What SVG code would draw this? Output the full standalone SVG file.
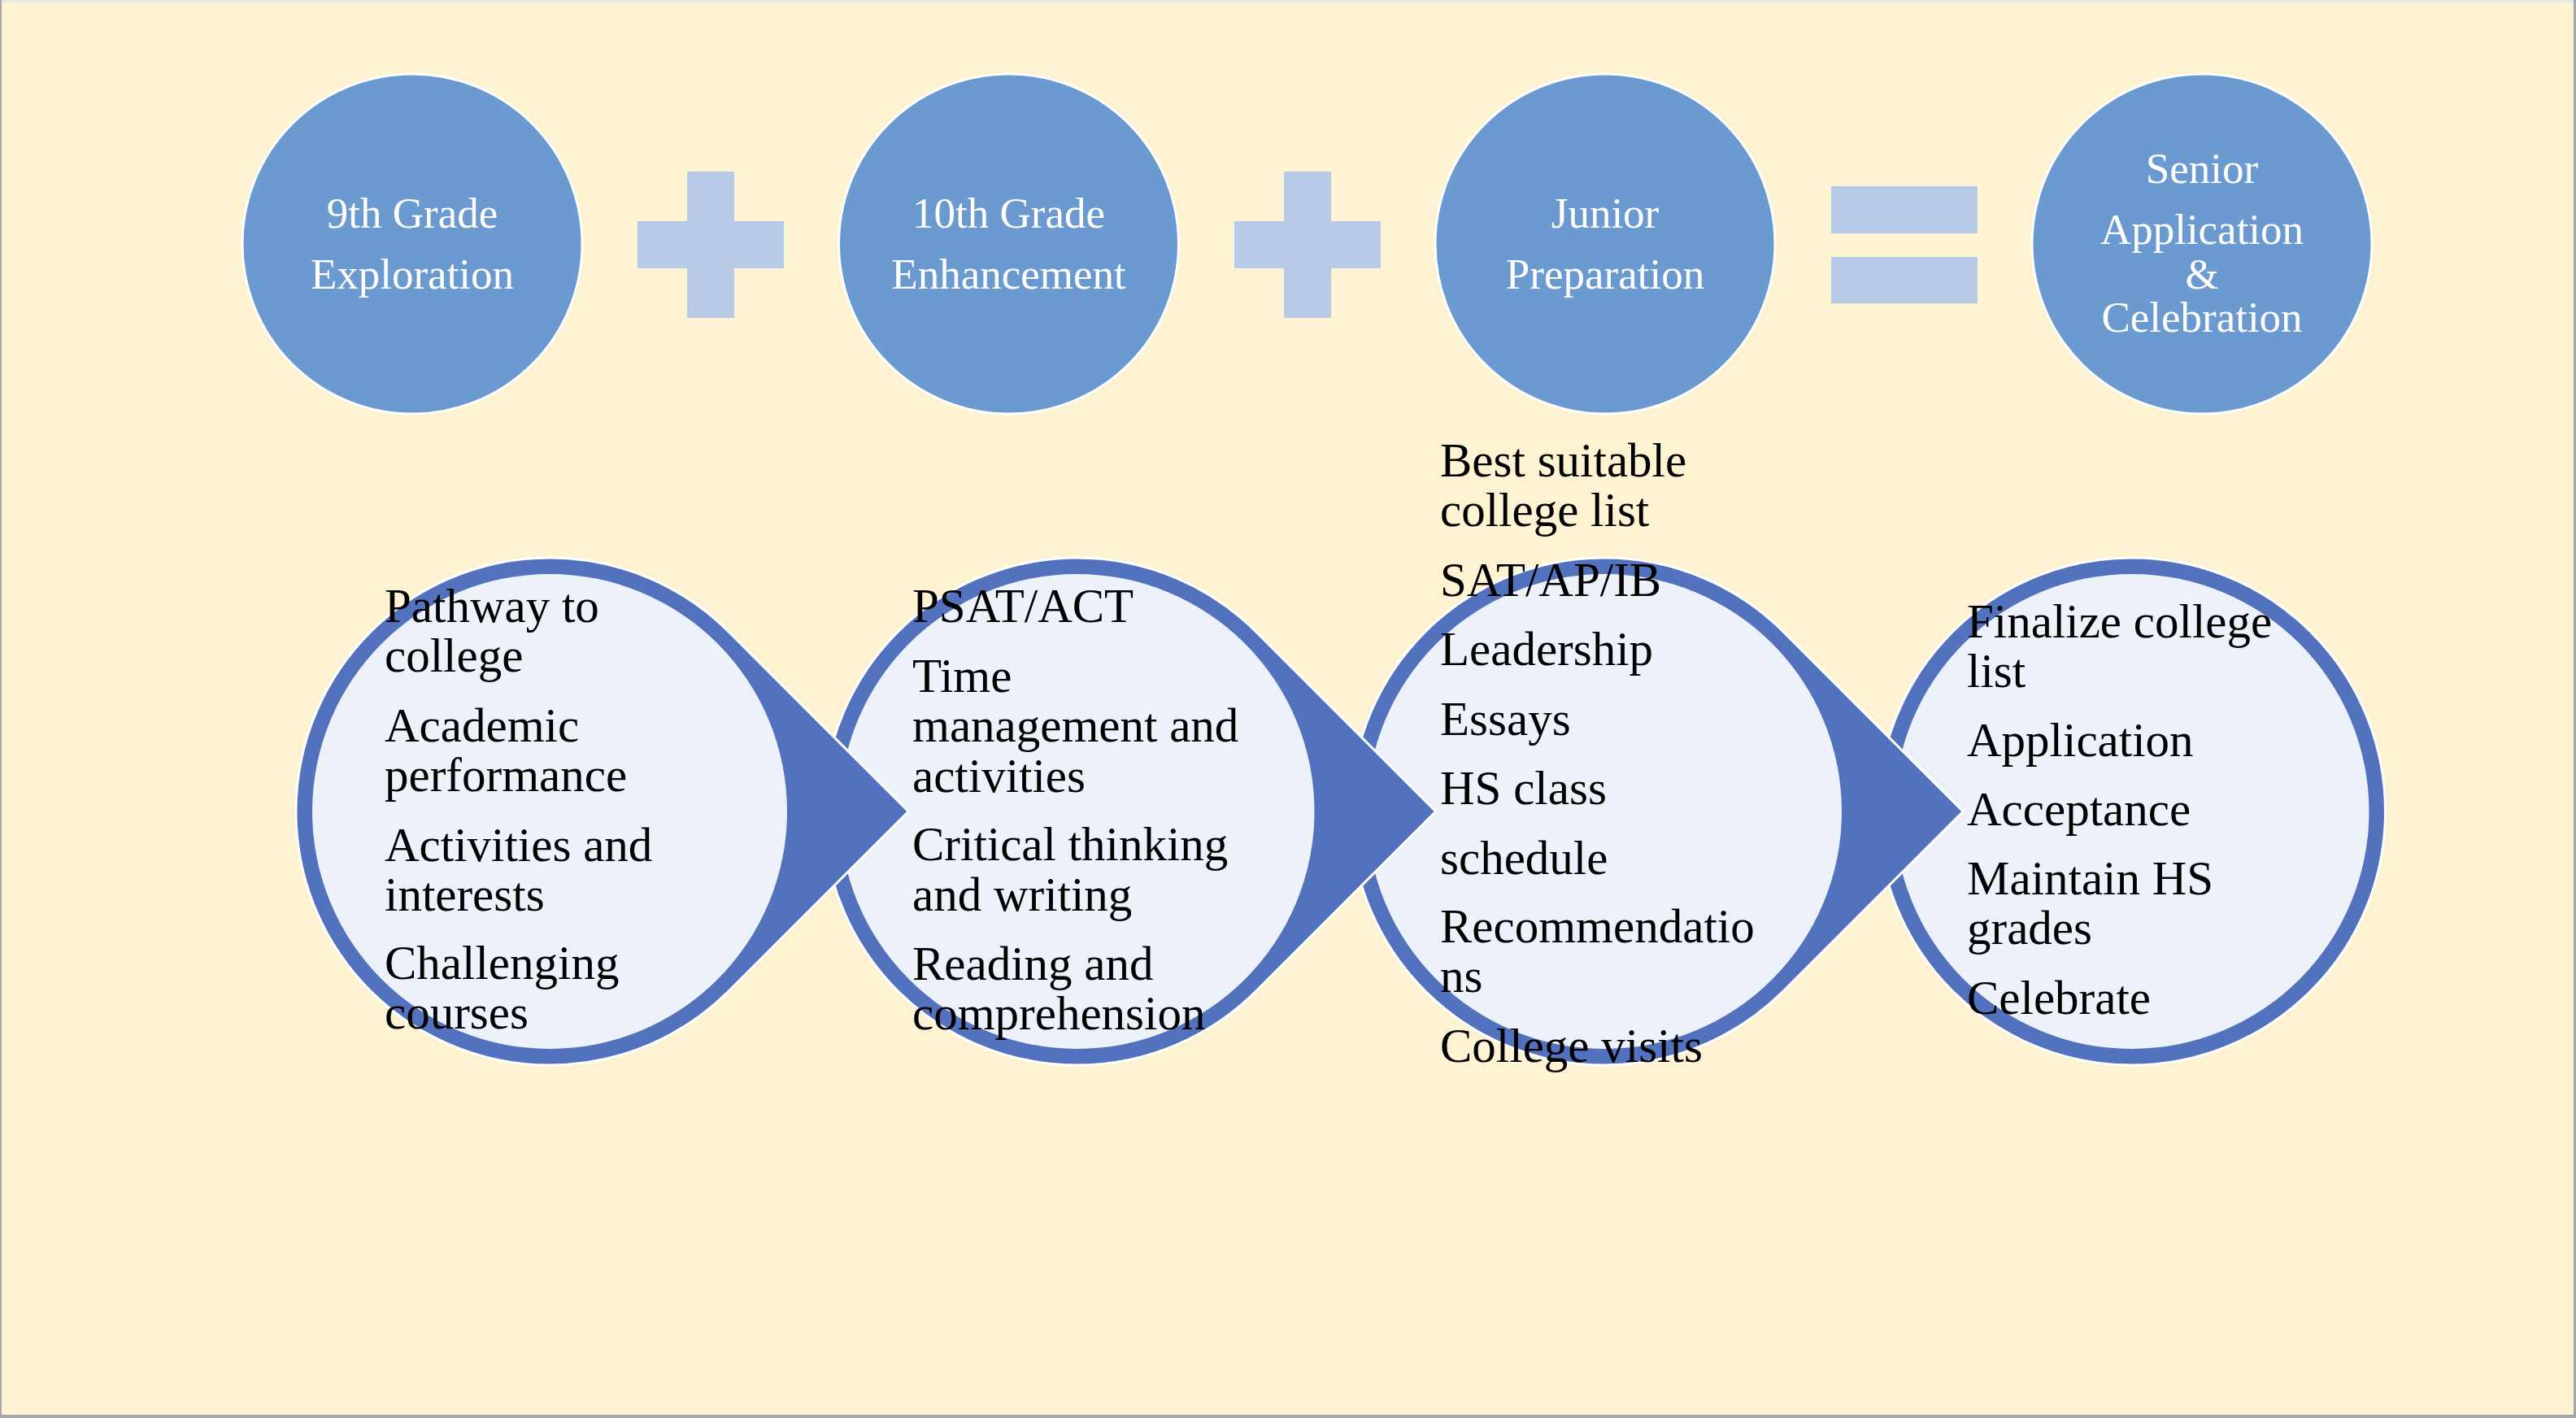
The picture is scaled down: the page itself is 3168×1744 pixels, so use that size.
<svg xmlns="http://www.w3.org/2000/svg" width="3168" height="1744" viewBox="0 0 3168 1744">
<style>
.bg{fill:#FDF3D2}
.top{fill:#6B9AD0;stroke:#FFFFFF;stroke-width:3}
.op{fill:#B8CBE6}
.ttxt{font-family:"Liberation Serif","Times New Roman",serif;font-size:53px;fill:#FFFFFF;text-anchor:middle}
.drop{fill:#5272BD;stroke:#FFFFFF;stroke-width:3;stroke-linejoin:miter}
.inner{fill:#EDF2FA}
.btxt{font-family:"Liberation Serif","Times New Roman",serif;font-size:59px;fill:#000000}
</style>
<rect class="bg" x="0" y="0" width="3168" height="1744"/>
<rect x="0" y="0" width="3168" height="3" fill="#E6E6E6"/>
<rect x="0" y="0" width="2" height="1744" fill="#A6A6A6"/>
<rect x="3165" y="0" width="3" height="1744" fill="#A6A6A6"/>
<rect x="0" y="1740" width="3168" height="4" fill="#A6A6A6"/>

<g id="stage-9th">
<circle class="top" cx="507" cy="300" r="209"/>
<text class="ttxt" x="507" y="280">9th Grade</text>
<text class="ttxt" x="507" y="355">Exploration</text>
</g>
<g id="plus-1" class="op">
<rect x="784" y="272" width="180" height="58"/>
<rect x="845" y="211" width="58" height="180"/>
</g>
<g id="stage-10th">
<circle class="top" cx="1240.5" cy="300" r="209"/>
<text class="ttxt" x="1240.5" y="280">10th Grade</text>
<text class="ttxt" x="1240.5" y="355">Enhancement</text>
</g>
<g id="plus-2" class="op">
<rect x="1518" y="272" width="180" height="58"/>
<rect x="1579" y="211" width="58" height="180"/>
</g>
<g id="stage-junior">
<circle class="top" cx="1974" cy="300" r="209"/>
<text class="ttxt" x="1974" y="280">Junior</text>
<text class="ttxt" x="1974" y="355">Preparation</text>
</g>
<g id="equals" class="op">
<rect x="2252" y="229" width="180" height="58"/>
<rect x="2252" y="316" width="180" height="57"/>
</g>
<g id="stage-senior">
<circle class="top" cx="2708" cy="300" r="209"/>
<text class="ttxt" x="2708" y="225">Senior</text>
<text class="ttxt" x="2708" y="300">Application</text>
<text class="ttxt" x="2708" y="355">&amp;</text>
<text class="ttxt" x="2708" y="408">Celebration</text>
</g>

<g id="connectors"></g>

<g id="senior-tasks">
<circle class="drop" cx="2621.5" cy="998" r="312"/>
<circle class="inner" cx="2621.5" cy="998" r="292"/>
<text class="btxt" x="2419" y="784">Finalize college</text>
<text class="btxt" x="2419" y="845">list</text>
<text class="btxt" x="2419" y="930">Application</text>
<text class="btxt" x="2419" y="1015">Acceptance</text>
<text class="btxt" x="2419" y="1100">Maintain HS</text>
<text class="btxt" x="2419" y="1161">grades</text>
<text class="btxt" x="2419" y="1247">Celebrate</text>
</g>
<g id="junior-tasks">
<path class="drop" d="M2414.2,998 L2193.6,777.4 A312,312 0 1 0 2193.6,1218.6 Z"/>
<circle class="inner" cx="1973" cy="998" r="292"/>
<text class="btxt" x="1771" y="586">Best suitable</text>
<text class="btxt" x="1771" y="647">college list</text>
<text class="btxt" x="1771" y="733">SAT/AP/IB</text>
<text class="btxt" x="1771" y="818">Leadership</text>
<text class="btxt" x="1771" y="904">Essays</text>
<text class="btxt" x="1771" y="989">HS class</text>
<text class="btxt" x="1771" y="1075">schedule</text>
<text class="btxt" x="1771" y="1159">Recommendatio</text>
<text class="btxt" x="1771" y="1220">ns</text>
<text class="btxt" x="1771" y="1306">College visits</text>
</g>
<g id="tenth-tasks">
<path class="drop" d="M1765.7,998 L1545.1,777.4 A312,312 0 1 0 1545.1,1218.6 Z"/>
<circle class="inner" cx="1324.5" cy="998" r="292"/>
<text class="btxt" x="1122" y="765">PSAT/ACT</text>
<text class="btxt" x="1122" y="851">Time</text>
<text class="btxt" x="1122" y="912">management and</text>
<text class="btxt" x="1122" y="974">activities</text>
<text class="btxt" x="1122" y="1058">Critical thinking</text>
<text class="btxt" x="1122" y="1120">and writing</text>
<text class="btxt" x="1122" y="1205">Reading and</text>
<text class="btxt" x="1122" y="1266">comprehension</text>
</g>
<g id="ninth-tasks">
<path class="drop" d="M1117.2,998 L896.6,777.4 A312,312 0 1 0 896.6,1218.6 Z"/>
<circle class="inner" cx="676" cy="998" r="292"/>
<text class="btxt" x="473" y="765">Pathway to</text>
<text class="btxt" x="473" y="826">college</text>
<text class="btxt" x="473" y="912">Academic</text>
<text class="btxt" x="473" y="973">performance</text>
<text class="btxt" x="473" y="1059">Activities and</text>
<text class="btxt" x="473" y="1120">interests</text>
<text class="btxt" x="473" y="1204">Challenging</text>
<text class="btxt" x="473" y="1265">courses</text>
</g>
</svg>
